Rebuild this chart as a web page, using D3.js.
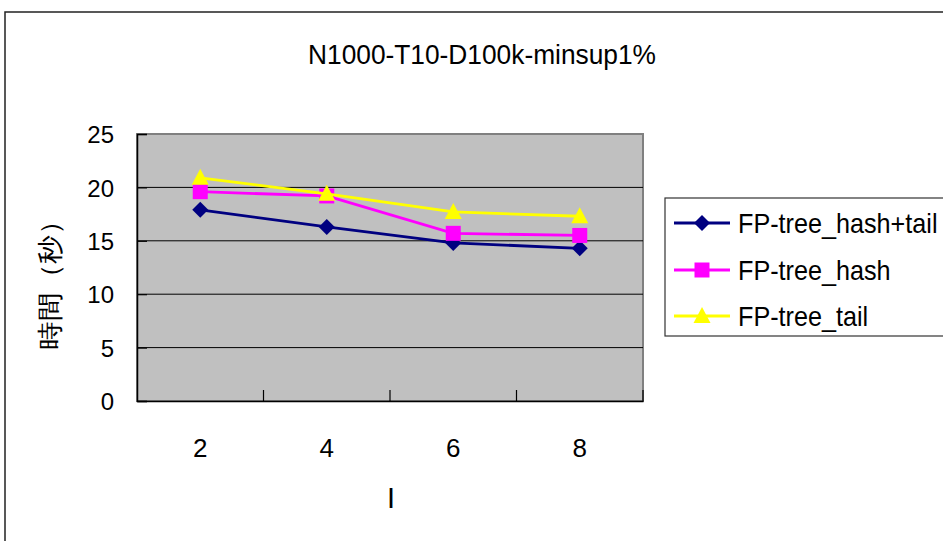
<!DOCTYPE html>
<html>
<head>
<meta charset="utf-8">
<script src="https://cdn.jsdelivr.net/npm/d3@7"></script>
<style>
  html, body { margin: 0; padding: 0; background: #fff; }
  svg { display: block; }
  text { font-family: "Liberation Sans", Arial, sans-serif; fill: #000; }
</style>
</head>
<body>
<svg id="chart" width="943" height="541"></svg>
<script>
const title = "N1000-T10-D100k-minsup1%";
const categories = ["2", "4", "6", "8"];
const yTicks = [0, 5, 10, 15, 20, 25];
const seriesNames = ["FP-tree_hash+tail", "FP-tree_hash", "FP-tree_tail"];
const hashTail = [17.9, 16.3, 14.8, 14.3];
const hashOnly = [19.6, 19.2, 15.7, 15.5];
const tailOnly = [20.9, 19.4, 17.7, 17.3];
const seriesColors = ["#000080", "#FF00FF", "#FFFF00"];
const seriesShapes = ["diamond", "square", "triangle"];
const xTitle = "I";
const yTitle = "時間（秒）";

const series = [hashTail, hashOnly, tailOnly].map((vals, i) => ({
  name: seriesNames[i], values: vals, color: seriesColors[i], shape: seriesShapes[i]
}));

const svg = d3.select("#chart");
const plot = { left: 137, right: 643, top: 134, bottom: 401 };

const x = d3.scaleBand().domain(categories).range([plot.left, plot.right]);
const y = d3.scaleLinear().domain([0, 25]).range([plot.bottom, plot.top]);

// outer chart frame
svg.append("rect").attr("x", 5).attr("y", 12).attr("width", 945).attr("height", 540)
  .attr("fill", "#fff").attr("stroke", "#222").attr("stroke-width", 1.5);

// title
svg.append("text").attr("transform", "translate(482,64) scale(0.94,1)").attr("text-anchor", "middle")
  .attr("font-size", 28).text(title);

// plot area
svg.append("rect").attr("x", plot.left).attr("y", plot.top)
  .attr("width", plot.right - plot.left).attr("height", plot.bottom - plot.top)
  .attr("fill", "#C0C0C0").attr("stroke", "#808080").attr("stroke-width", 2);

// gridlines
svg.append("g").selectAll("line").data(yTicks.filter(t => t > 0 && t < 25)).join("line")
  .attr("x1", plot.left).attr("x2", plot.right)
  .attr("y1", d => y(d)).attr("y2", d => y(d))
  .attr("stroke", "#000").attr("stroke-width", 1);

// y axis
const yAxis = d3.axisLeft(y).tickValues(yTicks).tickSize(-10).tickPadding(23).tickFormat(d3.format("d"));
const gy = svg.append("g").attr("transform", `translate(${plot.left},0)`).call(yAxis);
gy.select(".domain").attr("stroke", "#000").attr("stroke-width", 1.5);
gy.selectAll(".tick line").attr("stroke", "#000").attr("stroke-width", 1.2);
gy.selectAll(".tick text").attr("font-size", 24).attr("font-family", "Liberation Sans, Arial, sans-serif")
  .attr("fill", "#000").attr("dy", "0.36em");

// x axis
const xBoundaries = d3.scaleLinear().domain([0, categories.length]).range([plot.left, plot.right]);
const xAxis = d3.axisBottom(x).tickSize(0).tickPadding(38);
const gx = svg.append("g").attr("transform", `translate(0,${plot.bottom})`).call(xAxis);
gx.select(".domain").attr("stroke", "#000").attr("stroke-width", 1.5);
gx.selectAll(".tick text").attr("font-size", 26).attr("font-family", "Liberation Sans, Arial, sans-serif")
  .attr("fill", "#000");
svg.append("g").selectAll("line").data(d3.range(1, categories.length + 1)).join("line")
  .attr("x1", d => xBoundaries(d)).attr("x2", d => xBoundaries(d))
  .attr("y1", plot.bottom).attr("y2", plot.bottom - 11)
  .attr("stroke", "#000").attr("stroke-width", 1.2);

// axis titles
svg.append("text").attr("x", 391).attr("y", 508).attr("text-anchor", "middle")
  .attr("font-size", 29).text(xTitle);
svg.append("text").attr("transform", "translate(50,278) rotate(-90)")
  .attr("text-anchor", "middle").attr("dominant-baseline", "central")
  .attr("font-family", "'Noto Sans CJK TC', 'Noto Sans CJK SC', sans-serif")
  .attr("font-size", 26).attr("textLength", 143).attr("lengthAdjust", "spacingAndGlyphs")
  .text(yTitle);

// markers
function markerPath(shape) {
  if (shape === "diamond") return "M0,-8L8,0L0,8L-8,0Z";
  if (shape === "square") return "M-7.5,-7.5H7.5V7.5H-7.5Z";
  return "M0,-9L8.5,7L-8.5,7Z";
}

const line = d3.line().x((d, i) => x(categories[i]) + x.bandwidth() / 2).y(d => y(d));

series.forEach(s => {
  svg.append("path").datum(s.values).attr("d", line)
    .attr("fill", "none").attr("stroke", s.color).attr("stroke-width", 2.8);
  svg.append("g").selectAll("path").data(s.values).join("path")
    .attr("transform", (d, i) => `translate(${x(categories[i]) + x.bandwidth() / 2},${y(d)})`)
    .attr("d", markerPath(s.shape)).attr("fill", s.color);
});

// legend
const legend = svg.append("g");
legend.append("rect").attr("x", 665).attr("y", 198).attr("width", 290).attr("height", 138)
  .attr("fill", "#fff").attr("stroke", "#333").attr("stroke-width", 1.2);
const legendY = [223, 270, 316];
series.forEach((s, i) => {
  const g = legend.append("g").attr("transform", `translate(0,${legendY[i]})`);
  g.append("line").attr("x1", 674).attr("x2", 730).attr("y1", 0).attr("y2", 0)
    .attr("stroke", s.color).attr("stroke-width", 2.8);
  g.append("path").attr("transform", "translate(702,0)").attr("d", markerPath(s.shape)).attr("fill", s.color);
  g.append("text").attr("transform", "translate(738,10) scale(0.9,1)").attr("font-size", 28)
    .text(s.name);
});
</script>
</body>
</html>
